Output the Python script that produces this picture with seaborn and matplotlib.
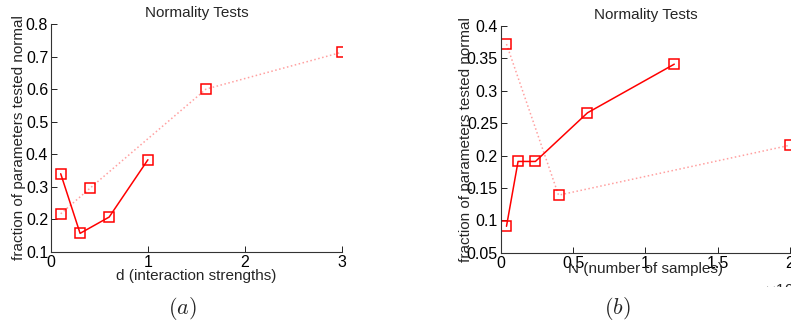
"""Normality tests: fraction of parameters tested normal, two panels"""

import matplotlib.pyplot as plt
from matplotlib.transforms import Bbox
import pandas as pd
import seaborn as sns

# panel (a): interaction strength d
d_solid = [0.1, 0.3, 0.6, 1.0]
frac_d_solid = [0.340, 0.157, 0.207, 0.383]
d_dotted = [0.1, 0.4, 1.6, 3.0]
frac_d_dotted = [0.217, 0.295, 0.600, 0.713]

# panel (b): number of samples N
n_solid = [400, 1200, 2400, 6000, 12000]
frac_n_solid = [0.091, 0.191, 0.191, 0.266, 0.341]
n_dotted = [400, 4000, 20000]
frac_n_dotted = [0.372, 0.139, 0.216]

n_ticks = [0, 5000, 10000, 15000, 20000]
n_tick_labels = ["0", "0.5", "1", "1.5", "2"]

sns.set_style("ticks")
plt.rcParams["font.family"] = ["Liberation Sans", "DejaVu Sans"]
plt.rcParams["mathtext.fontset"] = "cm"
plt.rcParams["xtick.direction"] = "in"
plt.rcParams["ytick.direction"] = "in"

RED = "#ff0000"
PINK = "#ffa0a0"

fig = plt.figure(figsize=(7.91, 3.28), dpi=100)
ax1 = fig.add_axes([0.0645, 0.232, 0.3675, 0.695])
ax2 = fig.add_axes([0.633, 0.229, 0.3657, 0.692])

mk = dict(marker="s", markersize=7, markerfacecolor="none", markeredgewidth=1.1)

sns.lineplot(data=pd.DataFrame({"x": d_dotted, "y": frac_d_dotted}), x="x", y="y", ax=ax1,
             color=PINK, linestyle=":", linewidth=1.1, markeredgecolor=RED, **mk)
sns.lineplot(data=pd.DataFrame({"x": d_solid, "y": frac_d_solid}), x="x", y="y", ax=ax1,
             color=RED, linewidth=1.1, markeredgecolor=RED, **mk)

sns.lineplot(data=pd.DataFrame({"x": n_dotted, "y": frac_n_dotted}), x="x", y="y", ax=ax2,
             color=PINK, linestyle=":", linewidth=1.1, markeredgecolor=RED, **mk)
sns.lineplot(data=pd.DataFrame({"x": n_solid, "y": frac_n_solid}), x="x", y="y", ax=ax2,
             color=RED, linewidth=1.1, markeredgecolor=RED, **mk)

ax1.set_xlim(0, 3)
ax1.set_ylim(0.1, 0.8)
ax1.set_xticks([0, 1, 2, 3])
ax1.set_xticklabels(["0", "1", "2", "3"])
ax1.set_yticks([0.1, 0.2, 0.3, 0.4, 0.5, 0.6, 0.7, 0.8])
ax1.set_yticklabels(["0.1", "0.2", "0.3", "0.4", "0.5", "0.6", "0.7", "0.8"])

ax2.set_xlim(0, 20000)
ax2.set_ylim(0.05, 0.4)
ax2.set_xticks(n_ticks)
ax2.set_xticklabels(n_tick_labels)
ax2.set_yticks([0.05, 0.1, 0.15, 0.2, 0.25, 0.3, 0.35, 0.4])
ax2.set_yticklabels(["0.05", "0.1", "0.15", "0.2", "0.25", "0.3", "0.35", "0.4"])

for ax, xlab in ((ax1, "d (interaction strengths)"), (ax2, "N (number of samples)")):
    sns.despine(ax=ax)
    ax.set_title("Normality Tests", fontsize=11, pad=5)
    ax.set_xlabel(xlab, fontsize=11)
    ax.set_ylabel("fraction of parameters tested normal", fontsize=11)
    ax.tick_params(labelsize=11.5, length=4, width=0.7, pad=2, colors="#222222", labelcolor="black")
    for s in ("left", "bottom"):
        ax.spines[s].set_linewidth(0.8)
        ax.spines[s].set_color("#333333")

ax1.yaxis.set_label_coords(-0.086, 0.5)
ax1.xaxis.set_label_coords(0.5, -0.075)
ax2.yaxis.set_label_coords(-0.097, 0.5)
ax2.xaxis.set_label_coords(0.5, -0.038)

# cropped "x10^4" multiplier, only its top half visible
t = fig.text(782 / 791, 1 - 290 / 328, r"$\times\mathregular{10}^4$", fontsize=11,
             ha="center", va="center", family="Liberation Sans")
t.set_clip_box(Bbox.from_extents(700, 328 - 287, 791, 328 - 270))
t.set_clip_on(True)

fig.text(182 / 791, 1 - 309 / 328, r"$(a)$", fontsize=16, ha="center", va="center")
fig.text(617 / 791, 1 - 309 / 328, r"$(b)$", fontsize=16, ha="center", va="center")

plt.savefig("out.png", dpi=100)
